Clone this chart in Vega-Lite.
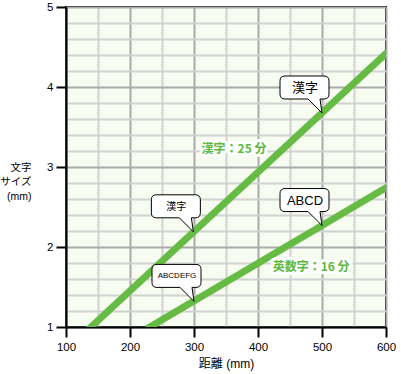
{
  "$schema": "https://vega.github.io/schema/vega-lite/v6.json",
  "width": 320,
  "height": 320,
  "autosize": {"type": "none"},
  "padding": {"left": 66, "top": 7, "right": 15, "bottom": 47},
  "background": "white",
  "config": {
    "font": "Liberation Sans, Noto Sans CJK JP",
    "view": {"fill": "#f6fcf0", "stroke": "black", "strokeWidth": 2}
  },
  "datasets": {
    "lines": [
      {"series": "漢字", "dist": 139, "size": 1},
      {"series": "漢字", "dist": 600, "size": 4.42},
      {"series": "英数字", "dist": 231, "size": 1},
      {"series": "英数字", "dist": 600, "size": 2.74}
    ],
    "callouts": [
      {"dist": 500, "size": 3.675, "text": "漢字"},
      {"dist": 500, "size": 2.268, "text": "ABCD"},
      {"dist": 299, "size": 2.19, "text": "漢字"},
      {"dist": 300, "size": 1.32, "text": "ABCDEFG"}
    ],
    "labels": [
      {"dist": 362.5, "size": 3.225, "text": "漢字：25 分"},
      {"dist": 483, "size": 1.75, "text": "英数字：16 分"}
    ]
  },
  "resolve": {"axis": {"x": "independent", "y": "independent"}},
  "layer": [
    {
      "data": {"name": "lines"},
      "mark": {"type": "line", "color": "#66bb44", "strokeWidth": 7, "clip": true, "strokeCap": "square"},
      "encoding": {
        "x": {
          "field": "dist", "type": "quantitative",
          "scale": {"domain": [100, 600], "nice": false, "zero": false},
          "axis": {
            "orient": "bottom",
            "values": [150, 250, 350, 450, 550],
            "title": null, "labels": false, "ticks": false, "domain": false,
            "grid": true, "gridColor": "#d2d2d2", "gridWidth": 2
          }
        },
        "y": {
          "field": "size", "type": "quantitative",
          "scale": {"domain": [1, 5], "nice": false, "zero": false},
          "axis": {
            "orient": "left",
            "values": [1.2, 1.4, 1.6, 1.8, 2.2, 2.4, 2.6, 2.8, 3.2, 3.4, 3.6, 3.8, 4.2, 4.4, 4.6, 4.8],
            "title": null, "labels": false, "ticks": false, "domain": false,
            "grid": true, "gridColor": "#d2d2d2", "gridWidth": 2
          }
        },
        "detail": {"field": "series"}
      }
    },
    {
      "data": {"name": "labels"},
      "mark": {"type": "text", "font": "Noto Sans CJK JP", "fontWeight": "bold", "fontSize": 12, "fill": "white", "stroke": "white", "strokeWidth": 6, "strokeJoin": "round", "align": "center", "baseline": "middle"},
      "encoding": {
        "x": {
          "field": "dist", "type": "quantitative",
          "axis": {
            "orient": "bottom",
            "values": [100, 200, 300, 400, 500, 600],
            "title": "距離 (mm)",
            "grid": true, "gridColor": "#aaaaaa", "gridWidth": 2,
            "tickSize": 10, "tickWidth": 2, "tickColor": "black",
            "domainColor": "black", "domainWidth": 2,
            "labelFontSize": 11.5, "labelColor": "black", "labelPadding": 4,
            "labelFlush": false, "labelOverlap": false,
            "titleFontSize": 12, "titleFontWeight": "normal", "titleColor": "black", "titlePadding": 6
          }
        },
        "y": {
          "field": "size", "type": "quantitative",
          "axis": {
            "orient": "left",
            "values": [1, 2, 3, 4, 5],
            "format": "d",
            "title": ["文字", "サイズ", "(mm)"],
            "grid": true, "gridColor": "#aaaaaa", "gridWidth": 2,
            "tickSize": 10, "tickWidth": 2, "tickColor": "black",
            "domainColor": "black", "domainWidth": 2,
            "labelFontSize": 11.5, "labelColor": "black", "labelPadding": 3,
            "labelFlush": false, "labelOverlap": false,
            "titleAngle": 0, "titleAlign": "right", "titleBaseline": "middle",
            "titleX": -35, "titleY": 160, "titleLineHeight": 14.5,
            "titleFontSize": 10.5, "titleFontWeight": "normal", "titleColor": "black"
          }
        },
        "text": {"field": "text"}
      }
    },
    {
      "data": {"name": "labels"},
      "mark": {"type": "text", "font": "Noto Sans CJK JP", "fontWeight": "bold", "fontSize": 12, "fill": "#5cb83e", "align": "center", "baseline": "middle"},
      "encoding": {
        "x": {"field": "dist", "type": "quantitative", "axis": null},
        "y": {"field": "size", "type": "quantitative", "axis": null},
        "text": {"field": "text"}
      }
    },
    {
      "data": {"name": "callouts"},
      "mark": {
        "type": "point",
        "shape": "M-0.0476,-0.3333 L0.0476,-0.3333 Q0.1667,-0.3333 0.1667,-0.4524 L0.1667,-0.7619 Q0.1667,-0.881 0.0476,-0.881 L-0.881,-0.881 Q-1,-0.881 -1,-0.7619 L-1,-0.4524 Q-1,-0.3333 -0.881,-0.3333 L-0.3333,-0.3333 L0,0 Z",
        "size": 7056, "filled": true, "fill": "white", "stroke": "black", "strokeWidth": 1, "opacity": 1, "fillOpacity": 1, "strokeOpacity": 1
      },
      "encoding": {
        "x": {"field": "dist", "type": "quantitative", "axis": null},
        "y": {"field": "size", "type": "quantitative", "axis": null}
      }
    },
    {
      "data": {"name": "callouts"},
      "transform": [{"filter": "datum.dist >= 400"}],
      "mark": {"type": "text", "fontSize": 13, "color": "black", "dx": -17, "dy": -25, "align": "center", "baseline": "middle"},
      "encoding": {
        "x": {"field": "dist", "type": "quantitative", "axis": null},
        "y": {"field": "size", "type": "quantitative", "axis": null},
        "text": {"field": "text"}
      }
    },
    {
      "data": {"name": "callouts"},
      "transform": [{"filter": "datum.dist < 400 && datum.text === '漢字'"}],
      "mark": {"type": "text", "fontSize": 10, "color": "black", "dx": -17, "dy": -25, "align": "center", "baseline": "middle"},
      "encoding": {
        "x": {"field": "dist", "type": "quantitative", "axis": null},
        "y": {"field": "size", "type": "quantitative", "axis": null},
        "text": {"field": "text"}
      }
    },
    {
      "data": {"name": "callouts"},
      "transform": [{"filter": "datum.dist < 400 && datum.text === 'ABCDEFG'"}],
      "mark": {"type": "text", "fontSize": 8, "color": "black", "dx": -17, "dy": -25, "align": "center", "baseline": "middle"},
      "encoding": {
        "x": {"field": "dist", "type": "quantitative", "axis": null},
        "y": {"field": "size", "type": "quantitative", "axis": null},
        "text": {"field": "text"}
      }
    }
  ]
}
